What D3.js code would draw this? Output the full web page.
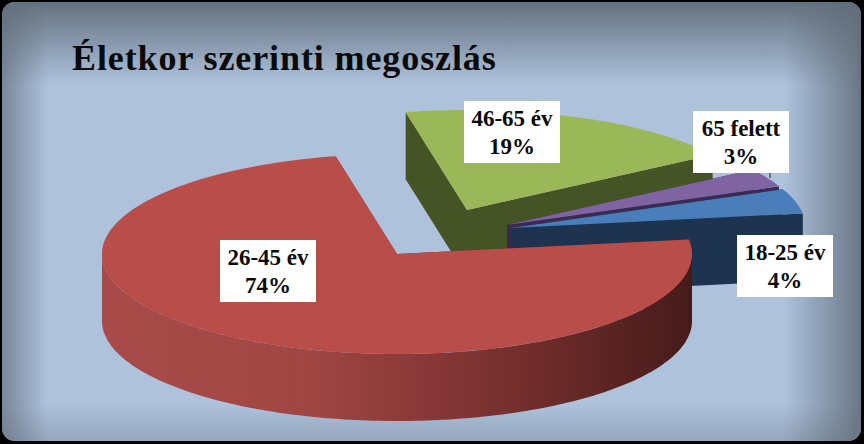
<!DOCTYPE html>
<html>
<head>
<meta charset="utf-8">
<script src="https://cdnjs.cloudflare.com/ajax/libs/d3/7.8.5/d3.min.js"></script>
<style>
  html, body { margin: 0; padding: 0; background: #000; overflow: hidden; }
  text { font-family: "Liberation Serif", serif; font-weight: bold; fill: #0a0a0a; }
</style>
</head>
<body>
<script>
  // Chart values, clockwise from the first slice
  const title = 'Életkor szerinti megoszlás'
  const categories = ['18-25 év', '26-45 év', '46-65 év', '65 felett']
  const percents = [4, 74, 19, 3]

  const width = 864
  const height = 444
  const radiusX = 295
  const radiusY = 100
  const depth = 67
  const firstAngle = (67.2 * Math.PI) / 180

  // Per slice look, same order as categories
  const topColors = ['#4a7ebb', '#b94d49', '#9bb858', '#8064a2']
  const sideColors = ['#1d334f', '#7a2f2d', '#445425', '#3a2a52']
  const centers = [
    [511, 228],
    [397, 254],
    [467, 210],
    [507, 225],
  ]
  const labelBoxes = [
    [737, 235],
    [220, 240],
    [464, 101],
    [693, 111],
  ]
  const drawOrder = [2, 3, 0, 1]

  const svg = d3
    .select('body')
    .append('svg')
    .attr('width', width)
    .attr('height', height)
    .style('display', 'block')

  const defs = svg.append('defs')

  function addFade(id, x1, y1, x2, y2, stops) {
    const g = defs
      .append('linearGradient')
      .attr('id', id)
      .attr('x1', x1)
      .attr('y1', y1)
      .attr('x2', x2)
      .attr('y2', y2)
    stops.forEach((s) => {
      g.append('stop')
        .attr('offset', s[0])
        .attr('stop-color', s[1])
        .attr('stop-opacity', s[2])
    })
  }

  // Panel edge shading
  const edge = '#5f6b78'
  addFade('fade-top', 0, 0, 0, 1, [[0, edge, 0.95], [1, edge, 0]])
  addFade('fade-left', 0, 0, 1, 0, [[0, edge, 0.7], [1, edge, 0]])
  addFade('fade-right', 1, 0, 0, 0, [[0, edge, 0.9], [1, edge, 0]])
  addFade('fade-bottom', 0, 1, 0, 0, [[0, edge, 0.35], [1, edge, 0]])

  // Red rim gets darker towards the right
  addFade('red-side', 0, 0, 1, 0, [
    [0, '#a84b48', 1],
    [0.35, '#a04643', 1],
    [0.7, '#752f2d', 1],
    [1, '#451b1a', 1],
  ])

  defs
    .append('clipPath')
    .attr('id', 'panel')
    .append('rect')
    .attr('x', 2)
    .attr('y', 2)
    .attr('width', width - 5)
    .attr('height', height - 5)
    .attr('rx', 13)

  const panel = svg.append('g').attr('clip-path', 'url(#panel)')
  panel
    .append('rect')
    .attr('width', width)
    .attr('height', height)
    .attr('fill', '#aec2dc')
  const fades = [
    ['fade-top', 0, 0, width, 85],
    ['fade-left', 0, 0, 48, height],
    ['fade-right', width - 80, 0, 80, height],
    ['fade-bottom', 0, height - 40, width, 40],
  ]
  fades.forEach((f) => {
    panel
      .append('rect')
      .attr('x', f[1])
      .attr('y', f[2])
      .attr('width', f[3])
      .attr('height', f[4])
      .attr('fill', `url(#${f[0]})`)
  })

  svg
    .append('text')
    .attr('x', 72)
    .attr('y', 70)
    .attr('font-size', 36)
    .attr('letter-spacing', 0.9)
    .text(title)

  // d3.pie angle runs from 12 o'clock, the ellipse from 3 o'clock
  const arcs = d3
    .pie()
    .sort(null)
    .startAngle(firstAngle)
    .endAngle(firstAngle + 2 * Math.PI)(percents)

  function point(i, angle, drop) {
    const c = centers[i]
    return [
      c[0] + radiusX * Math.cos(angle - Math.PI / 2),
      c[1] + radiusY * Math.sin(angle - Math.PI / 2) + (drop || 0),
    ]
  }

  function arcPoints(i, a0, a1, drop) {
    const steps = Math.max(2, Math.ceil((a1 - a0) / 0.02))
    return d3.range(steps + 1).map((k) => point(i, a0 + ((a1 - a0) * k) / steps, drop))
  }

  const line = d3.line()
  const plot = svg.append('g')

  drawOrder.forEach((i) => {
    const d = arcs[i]
    const c = centers[i]
    const apex = c
    const apexLow = [c[0], c[1] + depth]

    // Both cut faces, the ones turned away get covered by the top
    ;[d.startAngle, d.endAngle].forEach((a) => {
      plot
        .append('path')
        .attr('d', line([apex, point(i, a), point(i, a, depth), apexLow]) + 'Z')
        .attr('fill', sideColors[i])
    })

    // Outer rim, only the part on the near half of the ellipse
    const turn = 2 * Math.PI
    const nearFrom = Math.PI / 2 + turn * Math.floor(d.startAngle / turn)
    ;[nearFrom - turn, nearFrom, nearFrom + turn].forEach((from) => {
      const a0 = Math.max(d.startAngle, from)
      const a1 = Math.min(d.endAngle, from + Math.PI)
      if (a1 <= a0) return
      const rim = arcPoints(i, a0, a1, 0).concat(arcPoints(i, a0, a1, depth).reverse())
      plot
        .append('path')
        .attr('d', line(rim) + 'Z')
        .attr('fill', i === 1 ? 'url(#red-side)' : sideColors[i])
    })

    plot
      .append('path')
      .attr('d', line([apex, ...arcPoints(i, d.startAngle, d.endAngle, 0)]) + 'Z')
      .attr('fill', topColors[i])
  })

  // Leader stub of the smallest slice
  svg
    .append('line')
    .attr('x1', 770)
    .attr('x2', 770)
    .attr('y1', 170)
    .attr('y2', 178)
    .attr('stroke', '#1d2a3a')
    .attr('stroke-width', 1)

  // Data labels
  const labels = svg
    .selectAll('.label')
    .data(categories)
    .enter()
    .append('g')
    .attr('class', 'label')
    .attr('transform', (d, i) => `translate(${labelBoxes[i][0]},${labelBoxes[i][1]})`)

  labels
    .append('rect')
    .attr('width', 96)
    .attr('height', 62)
    .attr('fill', '#fff')

  labels
    .append('text')
    .attr('x', 48)
    .attr('y', 25)
    .attr('text-anchor', 'middle')
    .attr('font-size', 23)
    .text((d) => d)

  labels
    .append('text')
    .attr('x', 48)
    .attr('y', 53)
    .attr('text-anchor', 'middle')
    .attr('font-size', 23)
    .text((d, i) => `${percents[i]}%`)
</script>
</body>
</html>
